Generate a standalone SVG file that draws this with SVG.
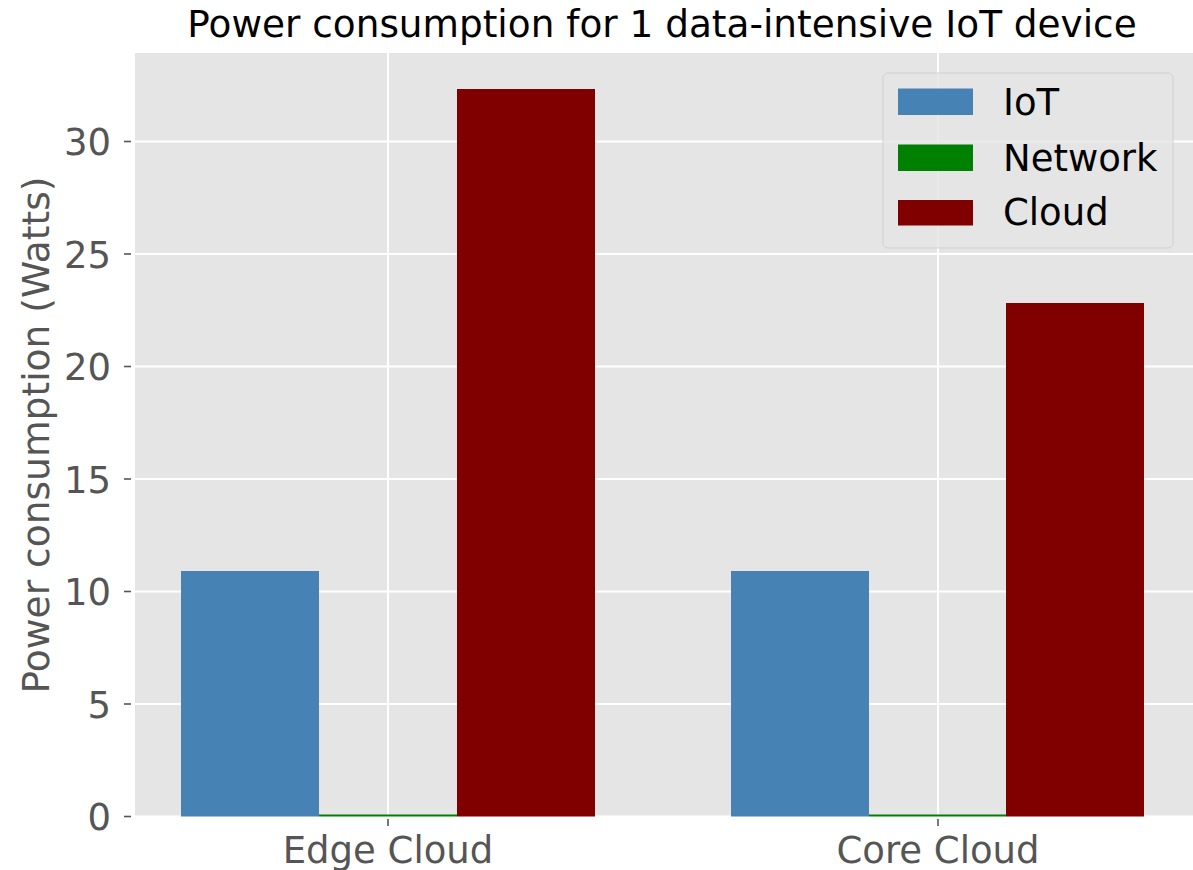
<svg xmlns="http://www.w3.org/2000/svg" width="1193" height="870" viewBox="0 0 1193 870">
<style>
text{font-family:"DejaVu Sans","Liberation Sans",sans-serif;font-size:37px}
.tick{fill:#555555}
.ytick{text-anchor:end}
.xtick{text-anchor:middle}
.grid{stroke:#ffffff;stroke-width:2}
.tm{stroke:#555555;stroke-width:1.6}
.iot{fill:#4682b4}
.net{fill:#008000}
.cloud{fill:#800000}
.leg{fill:#000000}
</style>
<rect x="0" y="0" width="1193" height="870" fill="#ffffff"/>
<g id="axes">
<rect x="135" y="53" width="1058" height="764" fill="#e5e5e5"/>
<g id="grid">
<line class="grid" x1="135" y1="816.5" x2="1193" y2="816.5"/>
<line class="grid" x1="135" y1="704" x2="1193" y2="704"/>
<line class="grid" x1="135" y1="591.5" x2="1193" y2="591.5"/>
<line class="grid" x1="135" y1="479" x2="1193" y2="479"/>
<line class="grid" x1="135" y1="366.5" x2="1193" y2="366.5"/>
<line class="grid" x1="135" y1="254" x2="1193" y2="254"/>
<line class="grid" x1="135" y1="141.5" x2="1193" y2="141.5"/>
<line class="grid" x1="388" y1="53" x2="388" y2="817"/>
<line class="grid" x1="938" y1="53" x2="938" y2="817"/>
</g>
<g id="ticks">
<line class="tm" x1="124" y1="816.5" x2="131" y2="816.5"/>
<line class="tm" x1="124" y1="704" x2="131" y2="704"/>
<line class="tm" x1="124" y1="591.5" x2="131" y2="591.5"/>
<line class="tm" x1="124" y1="479" x2="131" y2="479"/>
<line class="tm" x1="124" y1="366.5" x2="131" y2="366.5"/>
<line class="tm" x1="124" y1="254" x2="131" y2="254"/>
<line class="tm" x1="124" y1="141.5" x2="131" y2="141.5"/>
<line class="tm" x1="388" y1="819" x2="388" y2="826"/>
<line class="tm" x1="938" y1="819" x2="938" y2="826"/>
<text class="tick ytick" x="111" y="830">0</text>
<text class="tick ytick" x="111" y="717.5">5</text>
<text class="tick ytick" x="111" y="605">10</text>
<text class="tick ytick" x="111" y="492.5">15</text>
<text class="tick ytick" x="111" y="380">20</text>
<text class="tick ytick" x="111" y="267.5">25</text>
<text class="tick ytick" x="111" y="155">30</text>
<text class="tick xtick" x="388" y="863">Edge Cloud</text>
<text class="tick xtick" x="938" y="863">Core Cloud</text>
</g>
</g>
<g id="bars">
<rect id="edge-iot" class="iot" x="181" y="571" width="138" height="245.5"/>
<rect id="edge-net" class="net" x="319" y="814.5" width="138" height="2"/>
<rect id="edge-cloud" class="cloud" x="457" y="89" width="138" height="727.5"/>
<rect id="core-iot" class="iot" x="731" y="571" width="138" height="245.5"/>
<rect id="core-net" class="net" x="869" y="814.5" width="137" height="2"/>
<rect id="core-cloud" class="cloud" x="1006" y="303" width="138" height="513.5"/>
</g>
<text id="title" x="662" y="37" text-anchor="middle" fill="#000000" style="font-size:37.4px">Power consumption for 1 data-intensive IoT device</text>
<text id="ylabel" class="tick" transform="translate(49,435) rotate(-90)" text-anchor="middle" style="font-size:37.6px">Power consumption (Watts)</text>
<g id="legend">
<rect x="883" y="73" width="290" height="175" rx="5" ry="5" fill="#e5e5e5" fill-opacity="0.8" stroke="#cccccc" stroke-opacity="0.8" stroke-width="1"/>
<rect class="iot" x="898" y="88.5" width="75" height="26.5"/>
<rect class="net" x="898" y="144.5" width="75" height="26.5"/>
<rect class="cloud" x="898" y="200" width="75" height="25.5"/>
<text class="leg" x="1003" y="115">IoT</text>
<text class="leg" x="1003" y="170.5">Network</text>
<text class="leg" x="1003" y="225">Cloud</text>
</g>
</svg>
